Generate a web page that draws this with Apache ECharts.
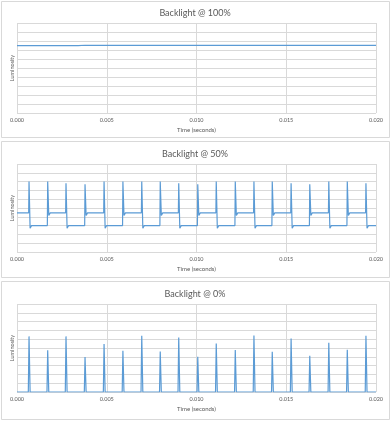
<!DOCTYPE html>
<html>
<head>
<meta charset="utf-8">
<script src="https://cdn.jsdelivr.net/npm/echarts@6/dist/echarts.min.js"></script>
<style>html,body{margin:0;padding:0;background:#fff;}#c{width:390px;height:421px;}</style>
</head>
<body>
<div id="c"></div>
<script>
// ---- data ----
const titles = ['Backlight @ 100%', 'Backlight @ 50%', 'Backlight @ 0%'];
const xTicks = [0, 0.005, 0.010, 0.015, 0.020];
const yName = 'Luminosity';
const xName = 'Time (seconds)';

// 100%: nearly flat line
const t100 = [0, 0.0034, 0.0038, 0.0120, 0.0200];
const v100 = [7.48, 7.48, 7.53, 7.52, 7.51];

// spike times (s), shared by 50% and 0% traces
const spikeTimes = [0.00067, 0.00171, 0.00273, 0.00379, 0.00485, 0.00590, 0.00695, 0.00798, 0.00901, 0.01007,
  0.01110, 0.01216, 0.01320, 0.01422, 0.01527, 0.01631, 0.01737, 0.01840, 0.01944];

// 50%: spike peaks, plateau levels (high, low), undershoot levels (after high, after low)
const peaks50 = [8.0, 8.0, 7.8, 7.7, 8.0, 8.0, 8.0, 8.0, 7.8, 7.7, 8.0, 8.0, 8.0, 8.0, 7.8, 7.7, 8.0, 8.0, 7.8];
const plateau50 = [4.45, 3.0];      // [high, low]
const settle50 = [4.15, 2.7];       // dip right after the spike
const startLevel50 = 4.45;

// 0%: spike peaks
const peaks0 = [6.32, 4.73, 6.32, 3.98, 5.45, 4.69, 6.40, 4.61, 6.20, 4.01, 5.52, 4.77, 6.43, 4.58, 6.09, 4.13, 5.60, 4.80, 6.40];

// ---- build series ----
const d100 = t100.map((t, i) => [t, v100[i]]);

const d50 = [[0, startLevel50]];
let cur = 0; // 0 = high, 1 = low
spikeTimes.forEach((t, i) => {
  const next = 1 - cur;
  d50.push([t - 0.00002, plateau50[cur]]);
  d50.push([t, peaks50[i]]);
  d50.push([t + 0.00006, settle50[next]]);
  d50.push([t + 0.00014, plateau50[next]]);
  cur = next;
});
d50.push([0.02, plateau50[cur]]);

const d0 = [[0, 0]];
spikeTimes.forEach((t, i) => {
  d0.push([t - 0.00004, 0]);
  d0.push([t, peaks0[i]]);
  d0.push([t + 0.00006, 0]);
});
d0.push([0.02, 0]);

const datas = [d100, d50, d0];

// ---- layout ----
const gridTops = [23, 164, 304];
const gridHeights = [90, 88, 88];
const titleTops = [4, 145, 285];
const panelRects = [[1, 1, 388, 136], [1, 141, 388, 136], [1, 281, 388, 138]];
const txt = '#595959';
const gridCol = '#d9d9d9';
const font = 'Lato, "Liberation Sans", sans-serif';

const chart = echarts.init(document.getElementById('c'), null, {renderer: 'canvas'});
chart.setOption({
  animation: false,
  backgroundColor: '#fff',
  graphic: panelRects.map(r => ({
    type: 'rect', shape: {x: r[0] + 0.5, y: r[1] + 0.5, width: r[2], height: r[3]},
    style: {fill: 'none', stroke: gridCol, lineWidth: 1}, silent: true, z: -1
  })),
  title: titles.map((t, i) => ({
    text: t, left: 'center', top: titleTops[i],
    textStyle: {fontSize: 9, fontWeight: 'normal', color: txt, fontFamily: font}
  })),
  grid: gridTops.map((t, i) => ({left: 17, right: 14, top: t, height: gridHeights[i]})),
  xAxis: gridTops.map((_, i) => ({
    gridIndex: i, type: 'value', min: xTicks[0], max: xTicks[xTicks.length - 1], interval: 0.005,
    axisLine: {show: false}, axisTick: {show: false},
    axisLabel: {fontSize: 5.5, color: txt, fontFamily: font, margin: 4, formatter: v => v.toFixed(3)},
    splitLine: {show: true, lineStyle: {color: gridCol, width: 1}},
    name: xName, nameLocation: 'middle', nameGap: 14,
    nameTextStyle: {fontSize: 6, color: txt, fontFamily: font}
  })),
  yAxis: gridTops.map((_, i) => ({
    gridIndex: i, type: 'value', min: 0, max: 10, interval: 1,
    axisLine: {show: false}, axisTick: {show: false}, axisLabel: {show: false},
    splitLine: {show: true, lineStyle: {color: gridCol, width: 1}},
    name: yName, nameLocation: 'middle', nameGap: 2, nameRotate: 90,
    nameTextStyle: {fontSize: 5.5, color: txt, fontFamily: font}
  })),
  series: datas.map((d, i) => ({
    type: 'line', xAxisIndex: i, yAxisIndex: i, data: d, showSymbol: false, symbol: 'none',
    lineStyle: {color: '#5b9bd5', width: 1.2}, z: 3
  }))
});
</script>
</body>
</html>
